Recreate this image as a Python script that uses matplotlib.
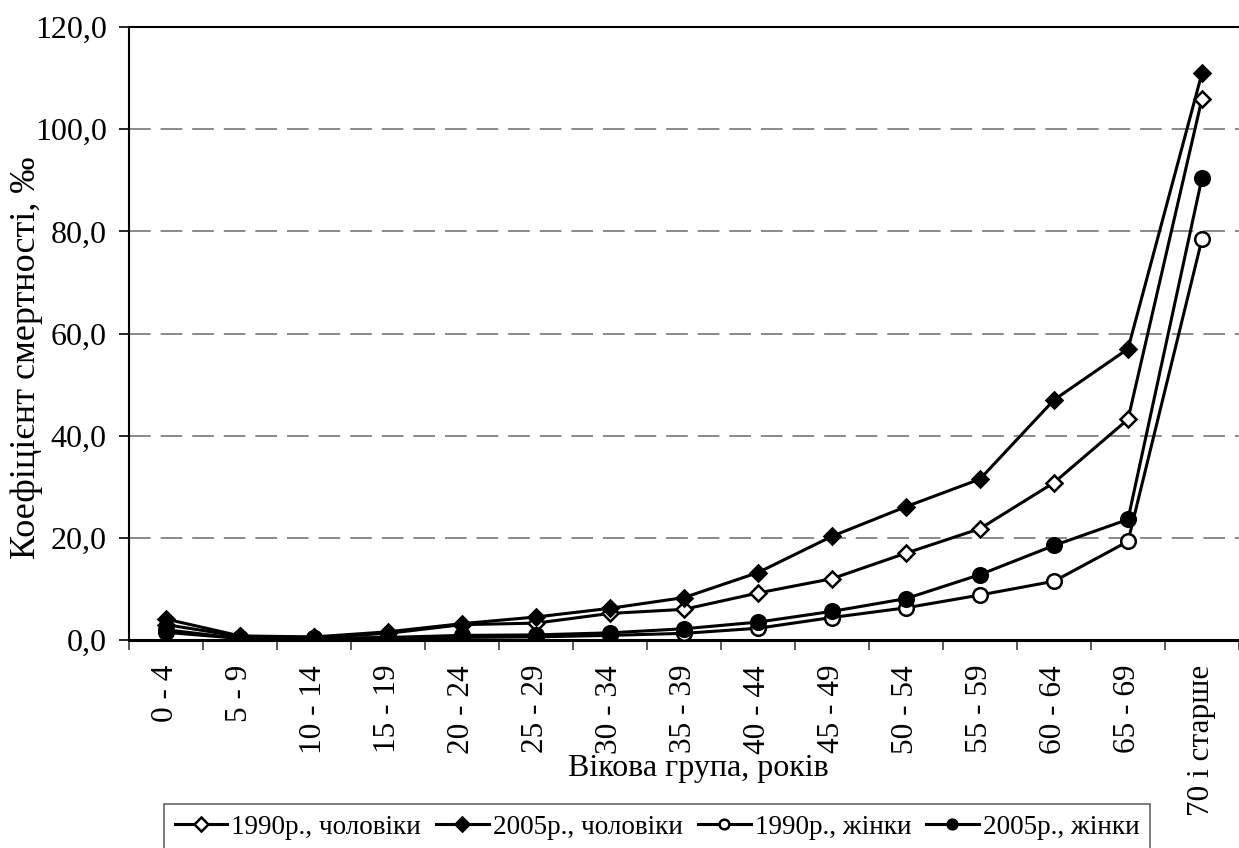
import numpy as np
import matplotlib
matplotlib.use('Agg')
import matplotlib.pyplot as plt
from matplotlib.ticker import MultipleLocator, FuncFormatter

plt.rcParams['font.family'] = ['Liberation Serif', 'DejaVu Serif']

age_groups = ['0 - 4', '5 - 9', '10 - 14', '15 - 19', '20 - 24', '25 - 29', '30 - 34',
              '35 - 39', '40 - 44', '45 - 49', '50 - 54', '55 - 59', '60 - 64',
              '65 - 69', '70 і старше']

men_1990 = [3.0, 0.7, 0.5, 1.3, 3.0, 3.3, 5.2, 6.0, 9.2, 12.0, 17.0, 21.8, 30.8, 43.2, 106.0]
men_2005 = [4.1, 0.8, 0.6, 1.6, 3.2, 4.5, 6.2, 8.3, 13.2, 20.3, 26.1, 31.5, 47.0, 57.0, 111.0]
women_1990 = [2.0, 0.3, 0.3, 0.4, 0.5, 0.6, 0.9, 1.3, 2.3, 4.4, 6.3, 8.8, 11.5, 19.3, 78.5]
women_2005 = [1.5, 0.3, 0.3, 0.5, 0.9, 1.0, 1.4, 2.2, 3.5, 5.6, 8.1, 12.8, 18.5, 23.6, 90.5]

x = np.arange(len(age_groups))

fig = plt.figure(figsize=(12.39, 8.48), dpi=100)
ax = fig.add_axes([0.1041, 0.2453, 0.8959, 0.7228])

lw = 2.2
ax.plot(x, men_1990, color='black', lw=lw, marker='D', ms=8, mfc='white', mec='black', mew=1.8,
        label='1990р., чоловіки', zorder=3)
ax.plot(x, men_2005, color='black', lw=lw, marker='D', ms=8, mfc='black', mec='black', mew=1.8,
        label='2005р., чоловіки', zorder=3)
ax.plot(x, women_1990, color='black', lw=lw, marker='o', ms=10.5, mfc='white', mec='black', mew=1.8,
        label='1990р., жінки', zorder=3)
ax.plot(x, women_2005, color='black', lw=lw, marker='o', ms=10.5, mfc='black', mec='black', mew=1.8,
        label='2005р., жінки', zorder=3)

ax.set_xlim(-0.5, len(age_groups) - 0.5)
ax.set_ylim(0, 120)
ax.yaxis.set_major_locator(MultipleLocator(20))
ax.yaxis.set_major_formatter(FuncFormatter(lambda v, p: ('%.1f' % v).replace('.', ',')))
for v in range(20, 120, 20):
    ax.axhline(v, color='#808080', lw=1.3, ls=(0, (12, 5.5)), zorder=1)

ax.set_xticks(x)
ax.set_xticklabels(age_groups, rotation=90, fontsize=22.5)
ax.set_xticks(np.arange(-0.5, len(age_groups)), minor=True)
ax.tick_params(axis='x', which='major', length=0, pad=18)
ax.tick_params(axis='x', which='minor', length=7, width=1.2, color='#404040')
ax.tick_params(axis='y', labelsize=23, length=7, width=1.2, direction='out', pad=9)

ax.spines['right'].set_visible(False)
for s in ['left', 'top', 'bottom']:
    ax.spines[s].set_linewidth(1.5)
ax.spines['bottom'].set_linewidth(2.2)

fig.text(27 / 1239, 1 - 358 / 848, 'Коефіцієнт смертності, ‰', fontsize=26,
         rotation=90, ha='center', va='center')
fig.text(698 / 1239, 1 - 776 / 848, 'Вікова група, років', fontsize=23,
         ha='center', va='baseline')

leg = fig.legend(loc='upper center', bbox_to_anchor=(657 / 1239, 1 - 804 / 848), ncol=4,
                 fontsize=19.5, frameon=True, fancybox=False, edgecolor='#404040',
                 handlelength=1.95, handletextpad=0.15, columnspacing=0.55,
                 borderpad=0.4, borderaxespad=0)
leg.get_frame().set_linewidth(1.2)
for h in leg.legend_handles:
    h.set_markersize(7)

fig.savefig('out.png', dpi=100)
